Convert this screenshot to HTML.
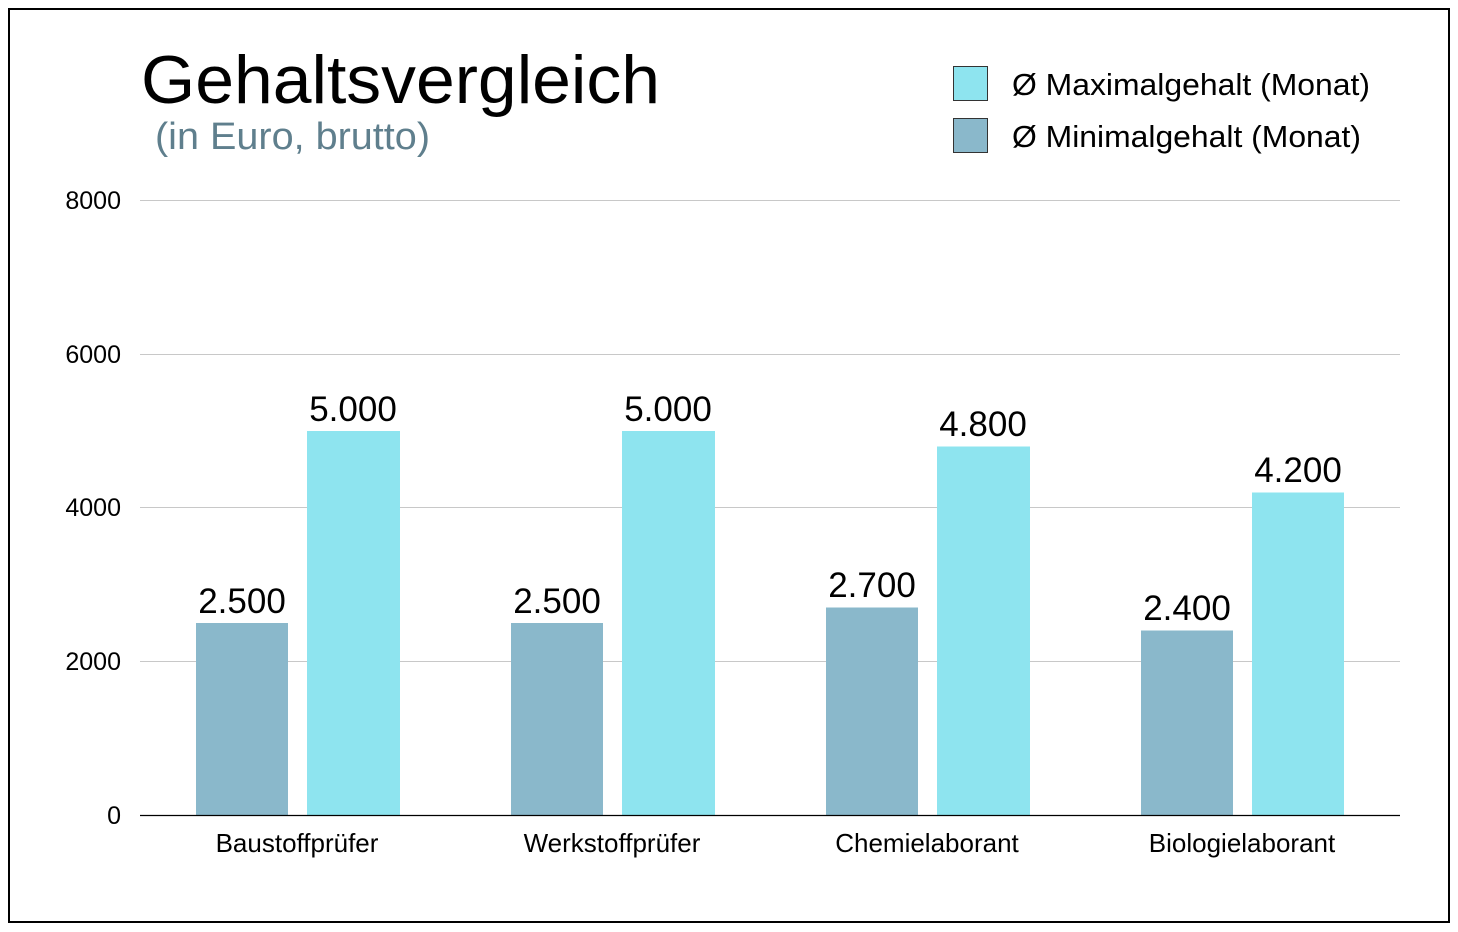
<!DOCTYPE html>
<html><head><meta charset="utf-8"><style>
html,body{margin:0;padding:0;background:#fff;}
svg{display:block;font-family:"Liberation Sans",Arial,sans-serif;}
</style></head><body>
<svg width="1458" height="932" viewBox="0 0 1458 932" xmlns="http://www.w3.org/2000/svg">
<rect x="0" y="0" width="1458" height="932" fill="#fff"/>
<rect x="9" y="9" width="1440" height="913" fill="none" stroke="#000" stroke-width="2"/>
<text x="141" y="103" font-size="68" fill="#000" textLength="519" lengthAdjust="spacingAndGlyphs">Gehaltsvergleich</text>
<text x="155" y="149" font-size="38" fill="#5f7f8d" textLength="275" lengthAdjust="spacingAndGlyphs">(in Euro, brutto)</text>
<rect x="953.5" y="66.5" width="34" height="34" fill="#8ee4ef" stroke="#333" stroke-width="1"/>
<rect x="953.5" y="118.5" width="34" height="34" fill="#8ab8cb" stroke="#333" stroke-width="1"/>
<text x="1012" y="95" font-size="31" fill="#000" textLength="358" lengthAdjust="spacingAndGlyphs">Ø Maximalgehalt (Monat)</text>
<text x="1012" y="147" font-size="31" fill="#000" textLength="349" lengthAdjust="spacingAndGlyphs">Ø Minimalgehalt (Monat)</text>
<g stroke="#c8c8c8" stroke-width="1">
<line x1="140" y1="200.5" x2="1400" y2="200.5"/>
<line x1="140" y1="354.5" x2="1400" y2="354.5"/>
<line x1="140" y1="507.5" x2="1400" y2="507.5"/>
<line x1="140" y1="661.5" x2="1400" y2="661.5"/>
</g>
<g font-size="25" fill="#000" text-anchor="end">
<text x="121" y="209">8000</text>
<text x="121" y="363">6000</text>
<text x="121" y="516">4000</text>
<text x="121" y="670">2000</text>
<text x="121" y="824">0</text>
</g>
<g fill="#8ab8cb">
<rect x="196" y="623" width="92" height="192"/>
<rect x="511" y="623" width="92" height="192"/>
<rect x="826" y="607.5" width="92" height="207.5"/>
<rect x="1141" y="630.5" width="92" height="184.5"/>
</g>
<g fill="#8ee4ef">
<rect x="307" y="431" width="93" height="384"/>
<rect x="622" y="431" width="93" height="384"/>
<rect x="937" y="446.5" width="93" height="368.5"/>
<rect x="1252" y="492.5" width="92" height="322.5"/>
</g>
<line x1="140" y1="815.5" x2="1400" y2="815.5" stroke="#000" stroke-width="1.2"/>
<g font-size="35" fill="#000" text-anchor="middle">
<text x="242" y="613">2.500</text>
<text x="353" y="421">5.000</text>
<text x="557" y="613">2.500</text>
<text x="668" y="421">5.000</text>
<text x="872" y="597">2.700</text>
<text x="983" y="436">4.800</text>
<text x="1187" y="620">2.400</text>
<text x="1298" y="482">4.200</text>
</g>
<g font-size="26" fill="#000" text-anchor="middle">
<text x="297" y="852">Baustoffprüfer</text>
<text x="612" y="852">Werkstoffprüfer</text>
<text x="927" y="852">Chemielaborant</text>
<text x="1242" y="852">Biologielaborant</text>
</g>
</svg>
</body></html>
